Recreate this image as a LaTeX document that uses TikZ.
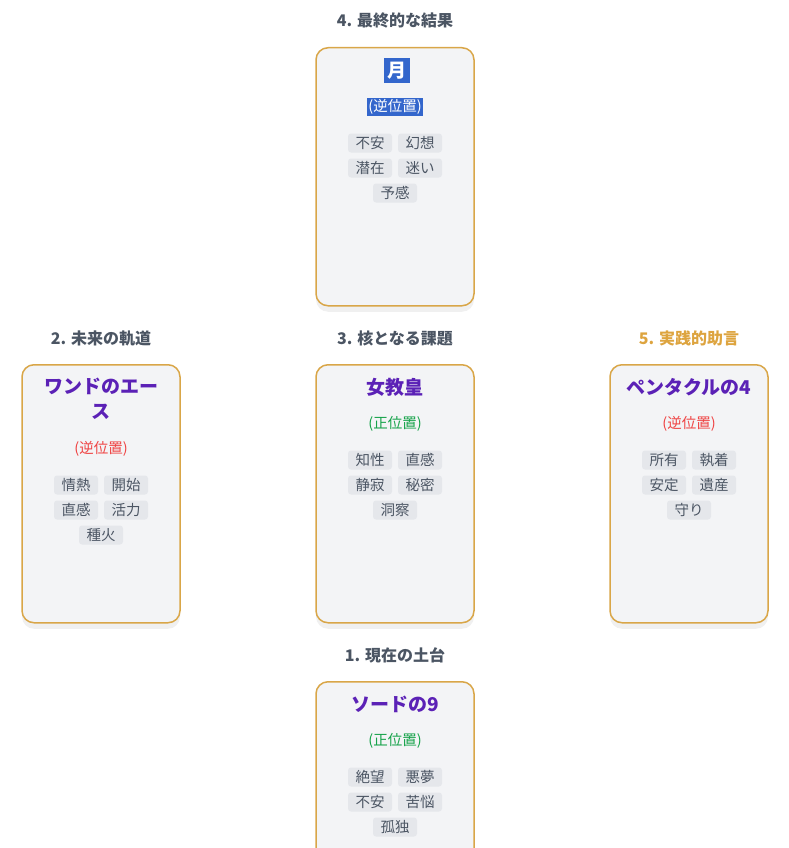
\documentclass[tikz,border=0pt]{standalone}
\usepackage{fontspec}
\setmainfont{Noto Sans CJK JP}
\usetikzlibrary{shadows}
\definecolor{cardline}{HTML}{D9A648}
\definecolor{cardfill}{HTML}{F3F4F6}
\definecolor{tagfill}{HTML}{E5E7EB}
\definecolor{ink}{HTML}{4B5563}
\definecolor{royal}{HTML}{5B21B6}
\definecolor{revred}{HTML}{EF4444}
\definecolor{upgreen}{HTML}{16A34A}
\definecolor{gold}{HTML}{DDA43F}
\definecolor{pick}{HTML}{3366CC}
\tikzset{ card/.style = { draw = cardline
                        , fill = cardfill
                        , line width   = 1.5pt
                        , rounded corners = 12pt
                        , minimum width  = 158pt
                        , minimum height = 258pt
                        , anchor = north
                        , drop shadow = {opacity=0.12, shadow xshift=0pt, shadow yshift=-6pt}
                        },
          spot/.style  = { font = \fontsize{16}{18}\bfseries, text = ink },
          ttl/.style  = { font = \fontsize{19}{25}\bfseries, text = royal, align = center },
          ori/.style  = { font = \fontsize{14.5}{16}\selectfont },
          tag/.style  = { fill = tagfill
                        , rounded corners = 3pt
                        , minimum width  = 44pt
                        , minimum height = 19pt
                        , inner sep = 0pt
                        , text = ink
                        , font = \fontsize{14.5}{16}\selectfont
                        }
        }
\newcommand{\tags}[6]{% id, cx, y of first row, three...
  \node[tag] (#1t1) at (#2-25,#3) {#4};
  \node[tag] (#1t2) at (#2+25,#3) {#5};
  \node[tag] (#1t3) at (#2-25,#3+25) {#6};
}
\begin{document}
\begin{tikzpicture}[x=1pt,y=-1pt]
  \useasboundingbox (0,0) rectangle (788,848);
  % top: result
  \node[spot] (moonpos) at (395,21) {4. 最終的な結果};
  \node[card] (moon) at (395,47) {};
  \node[ttl, fill=pick, text=white, inner sep=2pt, minimum width=26pt, minimum height=25pt] (moonname) at (397,71) {月};
  \node[ori, fill=pick, text=white, inner sep=1.5pt] (moonori) at (395,107) {(逆位置)};
  \tags{moon}{395}{143}{不安}{幻想}{潜在}
  \node[tag] (moont4) at (420,168) {迷い};
  \node[tag] (moont5) at (395,193) {予感};
  % middle left: future
  \node[spot] (wandpos) at (101,338) {2. 未来の軌道};
  \node[card] (wand) at (101,364) {};
  \node[ttl] (wandname) at (101,399) {ワンドのエー\\ス};
  \node[ori, text=revred] (wandori) at (101,449) {(逆位置)};
  \tags{wand}{101}{485}{情熱}{開始}{直感}
  \node[tag] (wandt4) at (126,510) {活力};
  \node[tag] (wandt5) at (101,535) {種火};
  % middle: core
  \node[spot] (priestpos) at (395,338) {3. 核となる課題};
  \node[card] (priest) at (395,364) {};
  \node[ttl] (priestname) at (395,387) {女教皇};
  \node[ori, text=upgreen] (priestori) at (395,424) {(正位置)};
  \tags{priest}{395}{460}{知性}{直感}{静寂}
  \node[tag] (priestt4) at (420,485) {秘密};
  \node[tag] (priestt5) at (395,510) {洞察};
  % middle right: advice
  \node[spot, text=gold] (pentpos) at (689,338) {5. 実践的助言};
  \node[card] (pent) at (689,364) {};
  \node[ttl] (pentname) at (689,387) {ペンタクルの4};
  \node[ori, text=revred] (pentori) at (689,424) {(逆位置)};
  \tags{pent}{689}{460}{所有}{執着}{安定}
  \node[tag] (pentt4) at (714,485) {遺産};
  \node[tag] (pentt5) at (689,510) {守り};
  % bottom: present
  \node[spot] (swordpos) at (395,655) {1. 現在の土台};
  \node[card] (sword) at (395,681) {};
  \node[ttl] (swordname) at (395,704) {ソードの9};
  \node[ori, text=upgreen] (swordori) at (395,741) {(正位置)};
  \tags{sword}{395}{777}{絶望}{悪夢}{不安}
  \node[tag] (swordt4) at (420,802) {苦悩};
  \node[tag] (swordt5) at (395,827) {孤独};
\end{tikzpicture}
\end{document}
